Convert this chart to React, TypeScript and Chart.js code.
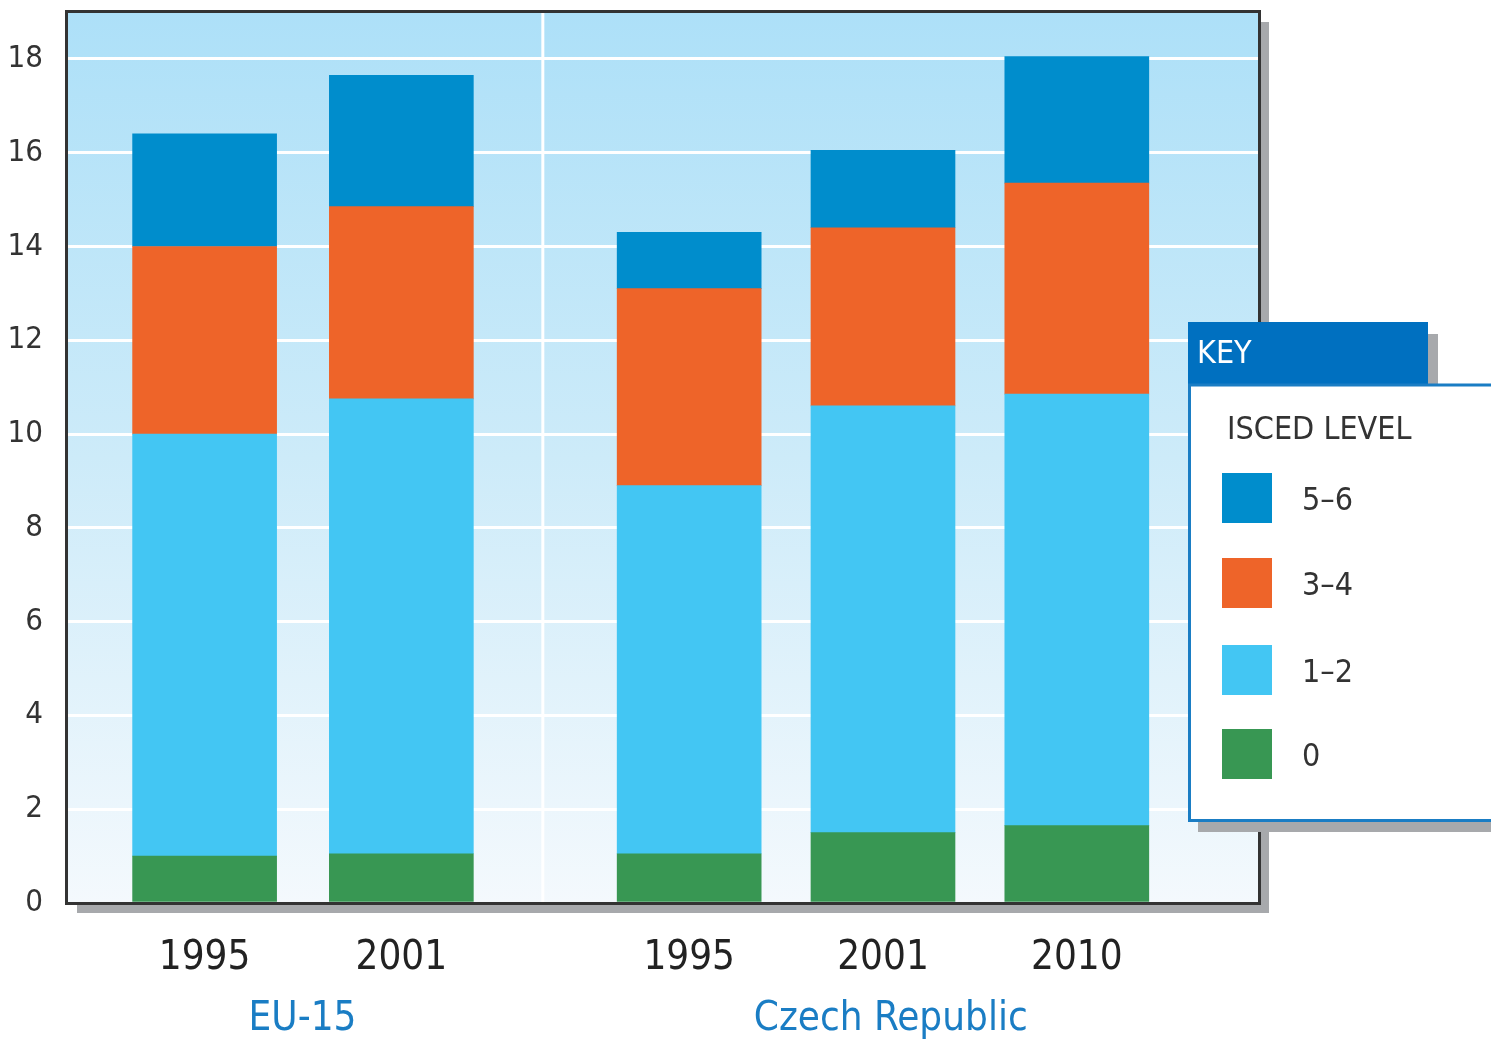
import React, { useEffect, useRef } from "react";
import { Chart, registerables } from "chart.js";

Chart.register(...registerables);

const yearLabels = ["1995", "2001", "1995", "2001", "2010"];
const xPositions = [1.42, 3.45, 6.42, 8.42, 10.42];
const separatorX = 4.91;
const groupLabels = ["EU-15", "Czech Republic"];
const groupCenters = [2.43, 8.5];

const level0 = [1.0, 1.05, 1.05, 1.5, 1.65];
const level12 = [9.0, 9.7, 7.85, 9.1, 9.2];
const level34 = [4.0, 4.1, 4.2, 3.8, 4.5];
const level56 = [2.4, 2.8, 1.2, 1.65, 2.7];

const yTicks = [0, 2, 4, 6, 8, 10, 12, 14, 16, 18];

const legendItems = ["5–6", "3–4", "1–2", "0"];
const colors = {
  l56: "#008dcc",
  l34: "#ee6429",
  l12: "#43c6f3",
  l0: "#389753",
};
const legendColors = [colors.l56, colors.l34, colors.l12, colors.l0];

const NARROW = "'Liberation Sans Narrow', 'Arial Narrow', 'DejaVu Sans Condensed', sans-serif";

const decorPlugin = {
  id: "decor",
  beforeDraw(chart: any) {
    const { ctx, chartArea } = chart;
    const { left, top, right, bottom } = chartArea;
    ctx.save();
    ctx.fillStyle = "#ffffff";
    ctx.fillRect(0, 0, chart.width, chart.height);
    ctx.fillStyle = "#a7a9ac";
    ctx.fillRect(left + 10, top + 10, right - left, bottom - top);
    const g = ctx.createLinearGradient(0, top, 0, bottom);
    g.addColorStop(0, "#ade0f8");
    g.addColorStop(0.5, "#cdebf9");
    g.addColorStop(1, "#f4f9fd");
    ctx.fillStyle = g;
    ctx.fillRect(left, top, right - left, bottom - top);
    ctx.restore();
  },
  beforeDatasetsDraw(chart: any) {
    const { ctx, chartArea, scales } = chart;
    const x = scales.x.getPixelForValue(separatorX);
    ctx.save();
    ctx.strokeStyle = "#ffffff";
    ctx.lineWidth = 3;
    ctx.beginPath();
    ctx.moveTo(x, chartArea.top);
    ctx.lineTo(x, chartArea.bottom);
    ctx.stroke();
    ctx.restore();
  },
  afterDraw(chart: any) {
    const { ctx, chartArea, scales } = chart;
    const { left, top, right, bottom } = chartArea;
    ctx.save();
    ctx.strokeStyle = "#333333";
    ctx.lineWidth = 3;
    ctx.strokeRect(left - 0.5, top - 0.5, right - left + 1, bottom - top + 1);

    ctx.fillStyle = "#1a7dc4";
    ctx.font = `40px ${NARROW}`;
    ctx.textAlign = "center";
    ctx.textBaseline = "middle";
    groupLabels.forEach((t, i) => {
      ctx.fillText(t, scales.x.getPixelForValue(groupCenters[i]), 1020);
    });

    const lx = 1188;
    const headerTop = 322;
    const headerBottom = 385;
    const boxBottom = 822;
    ctx.fillStyle = "#a7a9ac";
    ctx.fillRect(1428, headerTop + 12, 10, headerBottom - headerTop - 12);
    ctx.fillRect(lx + 10, boxBottom, chart.width - lx, 10);
    ctx.fillStyle = "#0070c0";
    ctx.fillRect(lx, headerTop, 1428 - lx, headerBottom - headerTop);
    ctx.fillStyle = "#ffffff";
    ctx.font = `32px ${NARROW}`;
    ctx.textAlign = "left";
    ctx.fillText("KEY", lx + 9, 355);
    ctx.fillStyle = "#ffffff";
    ctx.fillRect(lx, headerBottom, chart.width - lx + 10, boxBottom - headerBottom);
    ctx.strokeStyle = "#1a7dc4";
    ctx.lineWidth = 3;
    ctx.strokeRect(lx + 1.5, headerBottom, chart.width - lx + 10, boxBottom - headerBottom - 1.5);
    ctx.fillStyle = "#333333";
    ctx.font = `32px ${NARROW}`;
    ctx.fillText("ISCED LEVEL", 1227, 431);
    const swTops = [473, 558, 645, 729];
    legendItems.forEach((t, i) => {
      ctx.fillStyle = legendColors[i];
      ctx.fillRect(1222, swTops[i], 50, 50);
      ctx.fillStyle = "#333333";
      ctx.font = `32px ${NARROW}`;
      ctx.fillText(t, 1302, swTops[i] + 29);
    });
    ctx.restore();
  },
};

export default function App() {
  const ref = useRef<HTMLCanvasElement | null>(null);
  useEffect(() => {
    document.body.style.margin = "0";
    const canvas = ref.current!;
    const mk = (label: string, data: number[], color: string) => ({
      label,
      data: data.map((y, i) => ({ x: xPositions[i], y })),
      backgroundColor: color,
      borderWidth: 0,
      barThickness: 144,
    });
    const chart = new Chart(canvas, {
      type: "bar",
      data: {
        datasets: [
          mk("0", level0, colors.l0),
          mk("1–2", level12, colors.l12),
          mk("3–4", level34, colors.l34),
          mk("5–6", level56, colors.l56),
        ],
      },
      options: {
        responsive: false,
        animation: false,
        devicePixelRatio: 1,
        layout: { padding: { top: 12, right: 232, left: 0, bottom: 0 } },
        plugins: { legend: { display: false }, tooltip: { enabled: false } },
        scales: {
          x: {
            type: "linear",
            stacked: true,
            offset: false,
            min: 0,
            max: 12.3,
            grid: { display: false, drawTicks: false },
            border: { display: false },
            afterBuildTicks: (axis: any) => {
              axis.ticks = xPositions.map((v) => ({ value: v }));
            },
            afterFit: (axis: any) => {
              axis.height = 141;
              axis.paddingLeft = 0;
              axis.paddingRight = 0;
            },
            ticks: {
              autoSkip: false,
              maxRotation: 0,
              padding: 32,
              color: "#222222",
              font: { family: NARROW, size: 40 },
              callback: (_v: any, i: number) => yearLabels[i],
            },
          },
          y: {
            stacked: true,
            min: 0,
            max: 19,
            grid: { color: "#ffffff", lineWidth: 3, drawTicks: false },
            border: { display: false },
            afterBuildTicks: (axis: any) => {
              axis.ticks = yTicks.map((v) => ({ value: v }));
            },
            afterFit: (axis: any) => {
              axis.width = 67;
              axis.paddingTop = 0;
              axis.paddingBottom = 0;
            },
            ticks: {
              padding: 24,
              color: "#333333",
              font: { family: NARROW, size: 31 },
            },
          },
        },
      },
      plugins: [decorPlugin],
    });
    return () => chart.destroy();
  }, []);
  return <canvas ref={ref} width={1491} height={1044} style={{ display: "block" }} />;
}
